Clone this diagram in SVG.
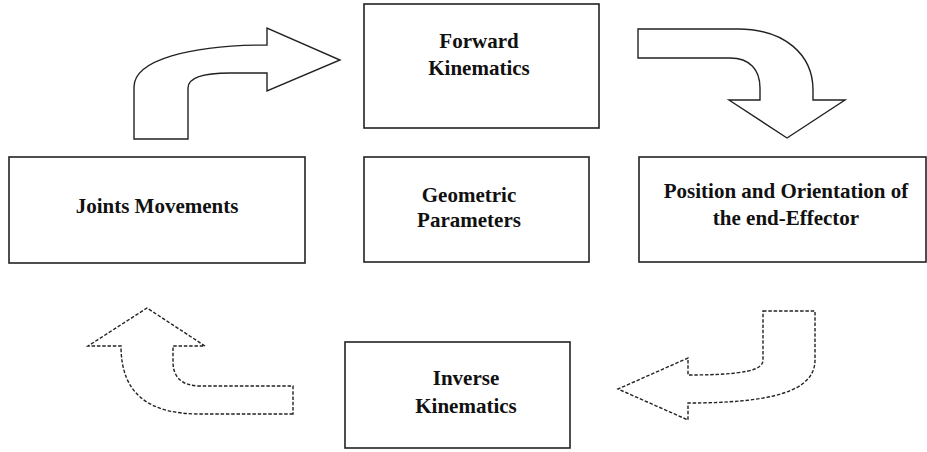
<svg xmlns="http://www.w3.org/2000/svg" width="927" height="452" viewBox="0 0 927 452">
<style>
.box{fill:#fff;stroke:#222;stroke-width:1.6}
.lbl{font-family:"Liberation Serif","Times New Roman",serif;font-weight:bold;font-size:21px;fill:#111;text-anchor:middle}
.solid{fill:#fff;stroke:#222;stroke-width:1.4;stroke-linejoin:miter}
.dash{fill:#fff;stroke:#222;stroke-width:1.4;stroke-dasharray:3.5 1.8}
</style>
<rect width="927" height="452" fill="#fff"/>
<g id="connectors">
<path class="solid" d="M134,139 L134,87 C134,60 190,45 267,45 L267,28 L340,60 L267,91 L267,73 L230,73 C198,73 188,80 188,88 L188,139 Z"/>
<path class="solid" d="M638,29 L738,29 C785,29 813,55 813,90 L813,100 L845,100 L787,138 L729,100 L760,100 L760,88 C760,70 750,58 730,58 L638,58 Z"/>
<path class="dash" d="M763,311 L815,311 L815,360 C815,392 770,403 688,403 L688,420 L618,389 L688,358 L688,375 C745,375 763,370 763,360 Z"/>
<path class="dash" d="M293,414 L200,414 C150,414 121,395 121,346 L88,346 L147,308 L205,346 L173,346 L173,362 C173,378 183,386 200,386 L293,386 Z"/>
</g>
<g id="forward">
<rect class="box" x="364" y="4" width="235" height="124"/>
<text class="lbl" x="479" y="48">Forward</text>
<text class="lbl" x="479" y="75">Kinematics</text>
</g>
<g id="joints">
<rect class="box" x="9" y="157" width="296" height="106"/>
<text class="lbl" x="157" y="213">Joints Movements</text>
</g>
<g id="geometric">
<rect class="box" x="364" y="157" width="225" height="105"/>
<text class="lbl" x="469" y="202">Geometric</text>
<text class="lbl" x="469" y="227">Parameters</text>
</g>
<g id="position">
<rect class="box" x="639" y="157" width="287" height="105"/>
<text class="lbl" x="786" y="198">Position and Orientation of</text>
<text class="lbl" x="786" y="225">the end-Effector</text>
</g>
<g id="inverse">
<rect class="box" x="345" y="342" width="225" height="106"/>
<text class="lbl" x="466" y="385">Inverse</text>
<text class="lbl" x="466" y="413">Kinematics</text>
</g>
</svg>
